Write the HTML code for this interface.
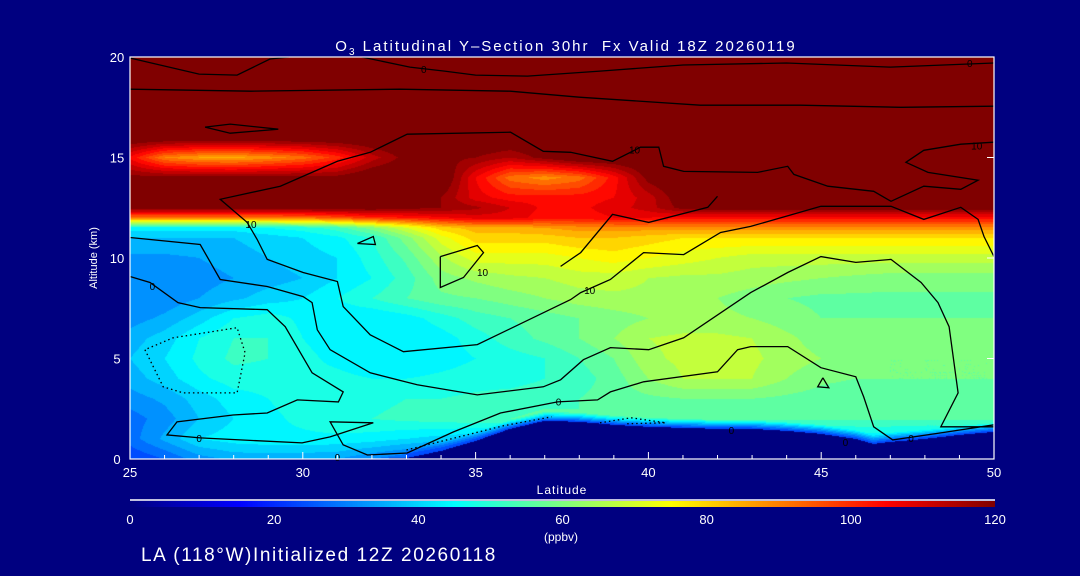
<!DOCTYPE html>
<html><head><meta charset="utf-8">
<style>
html,body{margin:0;padding:0;background:#000080;}
#wrap{position:relative;width:1080px;height:576px;background:#000080;overflow:hidden;font-family:"Liberation Sans",sans-serif;color:#fff;}
canvas{position:absolute;}
svg{position:absolute;left:0;top:0;}
text{white-space:pre;}
</style></head><body>
<div id="wrap">
<canvas id="field" width="864" height="402" style="left:130px;top:57px"></canvas>
<canvas id="cbar" width="865" height="6" style="left:130px;top:501px"></canvas>
<svg id="svg" width="1080" height="576"></svg>
</div>
<script>
const lats=[25,26,27,28,29,30,31,32,33,34,35,36,37,38,39,40,41,42,43,44,45,46,47,48,49,50];
const alts=[0,1,2,3,4,5,6,7,8,9,10,11,11.5,12,12.5,13,14,15,16,17,18,19,20];
const o3=[
[22,26,32,35,35,35,34,30,26,22,20,20,20,20,20,25,30,30,30,30,30,30,30,30,30,30],
[28,35,42,44,45,45,45,44,42,40,38,36,35,35,35,38,40,40,40,40,40,42,42,40,40,40],
[28,32,38,42,45,47,49,50,51,52,53,54,55,54,54,54,55,55,55,55,55,55,55,55,55,55],
[32,35,40,44,46,48,48,49,50,50,51,52,53,54,56,57,58,58,58,57,56,55,55,55,55,55],
[36,40,45,48,48,47,47,46,46,47,48,48,50,52,56,62,66,66,66,62,59,58,58,58,58,58],
[38,42,47,51,50,47,45,43,42,44,46,48,50,54,58,65,67,68,67,64,62,60,58,58,58,58],
[36,40,46,50,50,46,44,42,42,44,48,52,55,58,62,66,67,67,66,63,60,60,60,59,59,59],
[32,35,40,46,48,45,43,42,44,48,52,54,56,58,60,62,63,63,62,60,58,58,58,58,58,58],
[30,31,34,37,40,42,46,50,54,57,58,60,62,64,65,65,64,62,60,58,57,57,57,57,57,57],
[30,30,32,34,36,38,42,46,52,60,63,65,66,68,68,66,65,65,64,63,62,61,60,60,60,60],
[33,33,34,36,38,40,42,48,55,65,72,72,72,74,76,74,72,70,68,68,68,68,68,68,68,68],
[38,38,38,38,40,42,45,50,60,72,80,80,80,82,82,80,78,78,78,78,78,78,78,78,78,78],
[44,44,44,44,46,48,52,60,70,80,84,84,86,88,88,88,88,88,88,88,88,88,88,88,88,88],
[90,90,90,90,90,92,95,100,102,105,108,108,104,104,106,106,104,104,104,104,104,104,104,104,104,104],
[122,122,122,122,122,122,122,122,120,118,115,110,105,105,108,112,120,122,122,122,122,122,122,122,122,122],
[124,124,124,124,124,124,124,124,122,118,108,104,104,104,106,112,122,125,125,125,125,125,125,125,125,125],
[120,120,120,120,120,120,120,124,125,125,106,92,88,92,104,120,125,125,125,125,125,125,125,125,125,125],
[105,90,86,85,88,92,100,112,120,120,118,114,120,125,125,125,125,125,125,125,125,125,125,125,125,125],
[125,125,125,125,125,125,125,125,125,125,125,125,125,125,125,125,125,125,125,125,125,125,125,125,125,125],
[125,125,125,125,125,125,125,125,125,125,125,125,125,125,125,125,125,125,125,125,125,125,125,125,125,125],
[125,125,125,125,125,125,125,125,125,125,125,125,125,125,125,125,125,125,125,125,125,125,125,125,125,125],
[125,125,125,125,125,125,125,125,125,125,125,125,125,125,125,125,125,125,125,125,125,125,125,125,125,125],
[125,125,125,125,125,125,125,125,125,125,125,125,125,125,125,125,125,125,125,125,125,125,125,125,125,125]];
const terrainLat=[25,32,33,34,35,36,37,38,39,40,41,42,43,44,45,46,46.5,47,48,49,50];
const terrainAlt=[0,0,0.05,0.4,0.9,1.5,1.9,1.85,1.7,1.6,1.55,1.5,1.5,1.4,1.25,1.0,0.75,0.85,1.0,1.2,1.35];
const xTicks=[25,30,35,40,45,50];
const yTicks=[0,5,10,15,20];
const cbTicks=[0,20,40,60,80,100,120];
const c10a=[[50,15.76],[49.04,15.66],[47.97,15.36],[47.45,14.76],[48.09,14.26],[49.54,13.87],[49.04,13.42],[47.97,13.57],[47.02,12.82],[46.52,13.32],[45.19,13.57],[44.21,14.16],[44.03,14.56],[43.16,14.26],[41.02,14.31],[40.44,14.56],[40.30,15.51],[39.77,15.51],[38.96,14.81],[37.75,15.26],[36.96,15.31],[36.01,16.26],[33.02,16.16],[31.95,15.26],[31.0,14.81],[29.35,13.57],[27.61,12.92],[28.39,11.77],[28.68,10.92],[28.97,9.93],[30.01,9.28],[31.0,8.83],[31.17,7.58],[31.95,6.18],[32.91,5.34],[35.05,5.69],[37.75,7.93],[38.04,8.28],[38.9,8.93],[39.86,10.27],[41.02,10.17],[42.09,11.27],[42.96,11.57],[44.99,12.57],[47.02,12.57],[47.97,11.92],[49.04,12.52],[49.54,11.92],[49.71,11.07],[50,10.07]];
const c0a=[[25,9.08],[25.58,8.78],[26.39,7.78],[27.03,7.53],[28.97,7.43],[29.49,6.58],[30.27,4.29],[31.17,3.34],[31.03,2.84],[29.84,2.94],[28.97,2.29],[27.98,2.19],[26.36,1.85],[26.07,1.2],[27.03,1.05],[29.98,0.8],[30.79,1.1],[32.04,1.8],[30.79,1.85],[31.17,0.7],[31.87,0.2],[33.02,0.3],[34.36,1.35],[35.72,2.29],[37.37,2.84],[38.53,2.94],[38.9,3.34],[39.86,3.84],[42.0,4.34],[42.58,5.44],[42.96,5.59],[44.03,5.59],[44.99,4.54],[46.0,4.09],[46.23,3.09],[46.52,1.6],[47.07,0.95],[48.46,1.3],[50,1.7]];
const c0b=[[25,11.02],[27.03,10.67],[27.61,8.93],[28.97,8.58],[30.01,8.08],[30.27,7.78],[30.42,6.43],[30.79,5.44],[31.95,4.29],[33.31,3.69],[35.05,3.19],[36.96,3.59],[37.46,3.94],[38.12,4.94],[38.9,5.54],[40.01,5.44],[41.02,6.03],[42.96,8.28],[44.03,9.28],[44.99,10.07],[46.0,9.78],[47.02,9.93],[47.89,8.78],[48.38,7.78],[48.7,6.58],[48.96,3.29],[48.46,1.6],[50,1.6]];
const c0c=[[37.46,9.58],[38.04,10.27],[38.96,12.17],[40.01,11.77],[41.72,12.52],[42.0,13.07]];
const cTop1=[[25,19.95],[27,19.15],[28.1,19.1],[29.05,19.9],[29.6,20]];
const cTop2=[[31.7,20],[33.1,19.5],[34.1,19.3],[35,19.1],[36.5,19.05],[38.6,19.3],[41,19.6],[44,19.7],[47,19.5],[50,19.7]];
const cTop3=[[25,18.4],[28.5,18.3],[32.8,18.4],[36,18.3],[38,18.0],[41.5,17.6],[44.4,17.6],[47.3,17.5],[50,17.55]];
const cLoop1=[[27.17,16.51],[27.9,16.66],[29.29,16.41],[27.9,16.21],[27.17,16.51]];
const cLoop2=[[33.98,10.07],[35.05,10.62],[35.23,10.27],[34.65,9.03],[33.98,8.53],[33.98,10.07]];
const cTri1=[[31.58,10.72],[32.04,11.07],[32.1,10.67],[31.58,10.72]];
const cTri2=[[45.05,4.04],[44.9,3.59],[45.22,3.54],[45.05,4.04]];
const dotA=[[25.43,5.44],[25.96,3.59],[26.54,3.29],[28.1,3.29],[28.33,5.29],[28.1,6.53],[26.25,6.03],[25.43,5.44]];
const dotB=[[33.0,0.45],[34.4,1.05],[35.8,1.65],[37.2,2.1]];
const dotC=[[38.6,1.8],[39.5,2.05],[40.5,1.8],[39.3,1.75]];
const cLabels=[["0",25.65,8.6],["10",28.5,11.7],["10",35.2,9.3],["10",38.3,8.4],["0",27.0,1.05],["0",31.0,0.1],["0",37.4,2.85],["0",42.4,1.45],["0",47.6,1.05],["0",45.7,0.85],["0",33.5,19.4],["0",49.3,19.7],["10",39.6,15.4],["10",49.5,15.6]];

const X0=130,X1=994,Y0=459,Y1=57;
function xs(l){return X0+(l-25)/25*(X1-X0);}
function ys(a){return Y0-(a/20)*(Y0-Y1);}
function jet(v){const t=Math.max(0,Math.min(1,v/120));
 const c=x=>Math.round(255*Math.max(0,Math.min(1,x)));
 return [c(1.5-Math.abs(4*t-3)),c(1.5-Math.abs(4*t-2)),c(1.5-Math.abs(4*t-1))];}
function interp(arrX,arrY,x){for(let i=0;i<arrX.length-1;i++){if(x<=arrX[i+1]){const f=(x-arrX[i])/(arrX[i+1]-arrX[i]);return arrY[i]+f*(arrY[i+1]-arrY[i]);}}return arrY[arrY.length-1];}
function field(lat,alt){
 let fi=(lat-lats[0]);
 let i=Math.min(lats.length-2,Math.max(0,Math.floor(fi)));let u=fi-i;
 let j=0;while(j<alts.length-2&&alt>alts[j+1])j++;
 let v=Math.max(0,Math.min(1,(alt-alts[j])/(alts[j+1]-alts[j])));
 return o3[j][i]*(1-u)*(1-v)+o3[j][i+1]*u*(1-v)+o3[j+1][i]*(1-u)*v+o3[j+1][i+1]*u*v;}
(function(){const cv=document.getElementById('field');const ctx=cv.getContext('2d');
 const W=cv.width,H=cv.height;const img=ctx.createImageData(W,H);
 for(let py=0;py<H;py++){const alt=(Y0-(Y1+py+0.5))/(Y0-Y1)*20;
  for(let px=0;px<W;px++){const lat=25+(px+0.5)/(X1-X0)*25;
   const ter=interp(terrainLat,terrainAlt,lat);let col;
   if(alt<ter){col=[0,0,128];}else{let val=field(lat,alt);
    const d=alt-ter;if(ter>0.05&&d<0.45){val=val+(22-val)*(1-d/0.45);}
    val=Math.round(val/4)*4;col=jet(val);}
   const k=(py*W+px)*4;img.data[k]=col[0];img.data[k+1]=col[1];img.data[k+2]=col[2];img.data[k+3]=255;}}
 ctx.putImageData(img,0,0);})();
(function(){const cv=document.getElementById('cbar');const ctx=cv.getContext('2d');
 for(let px=0;px<cv.width;px++){const c=jet(px/(cv.width-1)*120);ctx.fillStyle='rgb('+c+')';ctx.fillRect(px,0,1,6);}})();
const NS='http://www.w3.org/2000/svg';const svg=document.getElementById('svg');
function el(tag,attrs,parent){const e=document.createElementNS(NS,tag);for(const k in attrs)e.setAttribute(k,attrs[k]);(parent||svg).appendChild(e);return e;}
function txt(s,x,y,size,anchor,name){const t=el('text',{x:x,y:y,'font-size':size,'text-anchor':anchor||'middle',fill:'#fff','font-family':'Liberation Sans, sans-serif'});t.textContent=s;
 
 return t;}
function line(pts,name,dash){const d=pts.map((p,i)=>(i?'L':'M')+xs(p[0]).toFixed(1)+' '+ys(p[1]).toFixed(1)).join('');
 const p=el('path',{d:d,fill:'none',stroke:'#000','stroke-width':1.3,'stroke-dasharray':dash?'1.5 3':'none'});
 
 }
line(c10a,'contour-10-main');line(c0a,'contour-0-lower');line(c0b,'contour-mid');line(c0c,'contour-upper-segment');
line(cTop1,'contour-top-1');line(cTop2,'contour-top-2');line(cTop3,'contour-top-3');line(cLoop1,'contour-loop-top');
line(cLoop2,'contour-loop-mid');line(cTri1,'contour-triangle-1');line(cTri2,'contour-triangle-2');
line(dotA,'contour-dotted-left',true);line(dotB,'contour-dotted-surface',true);line(dotC,'contour-dotted-right',true);
cLabels.forEach(l=>{const t=txt(l[0],xs(l[1]),ys(l[2])+4,10,'middle','contour-label');t.setAttribute('fill','#000');});
const fr=el('rect',{x:X0,y:Y1,width:X1-X0,height:Y0-Y1,fill:'none',stroke:'#fff','stroke-width':1.2});


for(let l=25;l<=50;l++){const maj=xTicks.includes(l);const tk=el('line',{x1:xs(l),x2:xs(l),y1:Y0,y2:Y0-(maj?7:4),stroke:'#fff','stroke-width':1});
 
 }
xTicks.forEach(l=>txt(String(l),xs(l),477,13,'middle','x-tick-label'));
yTicks.forEach(a=>{txt(String(a),117,ys(a)+5,13,'middle','y-tick-label');
 const tk=el('line',{x1:X1,x2:X1-7,y1:ys(a),y2:ys(a),stroke:'#fff','stroke-width':1});
 
 });
const xat=txt('Latitude',562,494,12,'middle','x-axis-title');xat.setAttribute('letter-spacing','1');
const yt=txt('Altitude (km)',97,258,11,'middle','y-axis-title');yt.setAttribute('transform','rotate(-90 97 258)');
const ti=txt('',566,51,15,'middle','chart-title');
ti.setAttribute('letter-spacing','2');
ti.innerHTML='O<tspan font-size="10" dy="4">3</tspan><tspan dy="-4"> Latitudinal Y\u2013Section 30hr  Fx Valid 18Z 20260119</tspan>';
const cbl=el('line',{x1:130,x2:995,y1:500,y2:500,stroke:'#fff','stroke-width':1.5});


cbTicks.forEach(v=>txt(String(v),130+v/120*865,524,13,'middle','colorbar-tick-label'));
txt('(ppbv)',561,541,12,'middle','colorbar-unit');
const ft=txt('LA (118\u00B0W)Initialized 12Z 20260118',141,561,19,'start','footer-text');
ft.setAttribute('letter-spacing','1.6');
</script>
</body></html>
